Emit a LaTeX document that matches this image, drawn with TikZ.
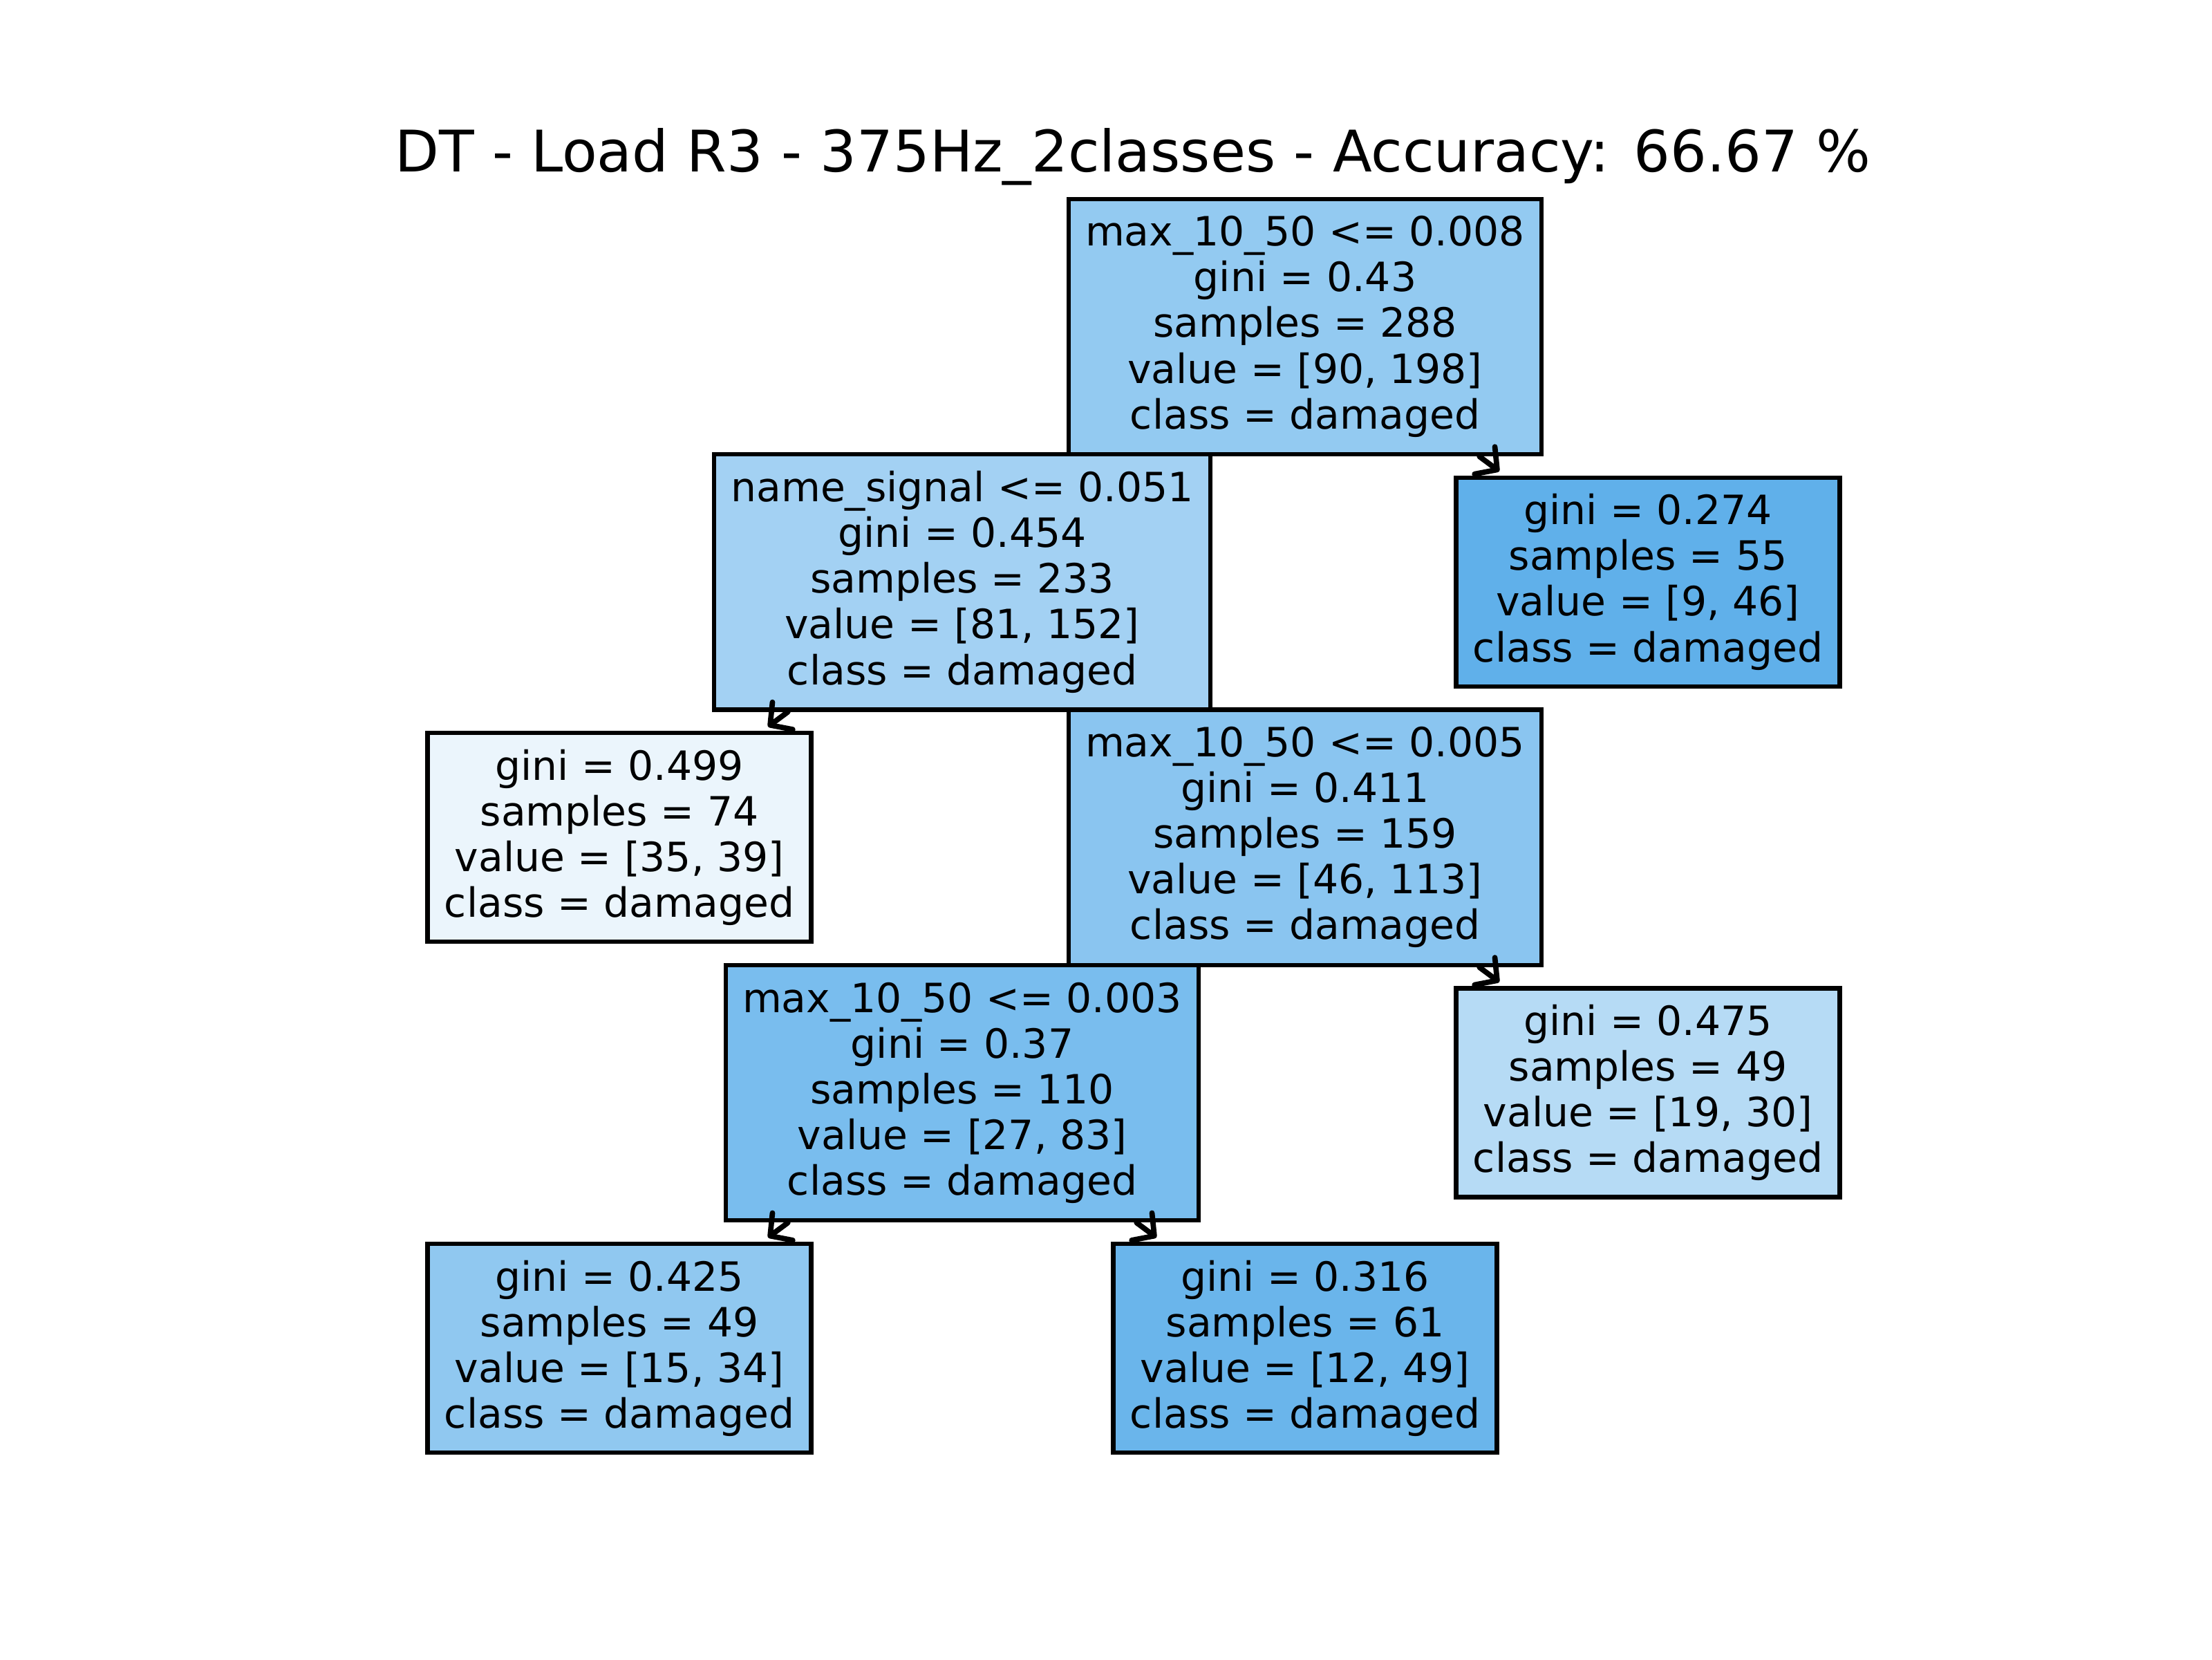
\documentclass[tikz,border=0pt]{standalone}
\usepackage{fontspec}
\setmainfont{DejaVu Sans}
\usetikzlibrary{arrows.meta}
\definecolor{rootblue}{HTML}{93CAF1}
\definecolor{signalblue}{HTML}{A3D1F3}
\definecolor{leafa}{HTML}{60B0EA}
\definecolor{leafb}{HTML}{EBF5FC}
\definecolor{midblue}{HTML}{8AC5F0}
\definecolor{lowblue}{HTML}{79BDEE}
\definecolor{leafc}{HTML}{B6DBF5}
\definecolor{leafd}{HTML}{90C8F0}
\definecolor{leafe}{HTML}{6AB5EB}
\tikzstyle{splitnode}=[draw, line width=0.9pt, align=center, inner xsep=0.122cm, minimum height=1.847cm, font=\fontsize{8.3}{9.4}\selectfont]
\tikzstyle{leafnode}=[splitnode, minimum height=1.51cm]
\tikzstyle{branch}=[line width=1.1pt, line cap=round, shorten >=0.05cm, -{Straight Barb[round, length=3.2pt, width=7pt]}]

\begin{document}
\begin{tikzpicture}[x=2.48cm, y=1.847cm]

\useasboundingbox (-4.48cm, -2.25cm) rectangle ++(16cm, 12cm);

\node [anchor=base, font=\fontsize{11.8}{14}\selectfont] (title) at (3.714cm, 8.505cm) {DT - Load R3 - 375Hz\_2classes - Accuracy: 66.67 \%};

\node [splitnode, fill=rootblue] (root) at (2, 4) {max\_10\_50 <= 0.008\\gini = 0.43\\samples = 288\\value = [90, 198]\\class = damaged};
\node [splitnode, fill=signalblue] (signal) at (1, 3) {name\_signal <= 0.051\\gini = 0.454\\samples = 233\\value = [81, 152]\\class = damaged};
\node [leafnode, fill=leafa] (leafA) at (3, 3) {gini = 0.274\\samples = 55\\value = [9, 46]\\class = damaged};
\node [leafnode, fill=leafb] (leafB) at (0, 2) {gini = 0.499\\samples = 74\\value = [35, 39]\\class = damaged};
\node [splitnode, fill=midblue] (maxB) at (2, 2) {max\_10\_50 <= 0.005\\gini = 0.411\\samples = 159\\value = [46, 113]\\class = damaged};
\node [splitnode, fill=lowblue] (maxC) at (1, 1) {max\_10\_50 <= 0.003\\gini = 0.37\\samples = 110\\value = [27, 83]\\class = damaged};
\node [leafnode, fill=leafc] (leafC) at (3, 1) {gini = 0.475\\samples = 49\\value = [19, 30]\\class = damaged};
\node [leafnode, fill=leafd] (leafD) at (0, 0) {gini = 0.425\\samples = 49\\value = [15, 34]\\class = damaged};
\node [leafnode, fill=leafe] (leafE) at (2, 0) {gini = 0.316\\samples = 61\\value = [12, 49]\\class = damaged};

\draw [branch] (root) -- (leafA);
\draw [branch] (signal) -- (leafB);
\draw [branch] (maxB) -- (leafC);
\draw [branch] (maxC) -- (leafD);
\draw [branch] (maxC) -- (leafE);

\end{tikzpicture}
\end{document}
